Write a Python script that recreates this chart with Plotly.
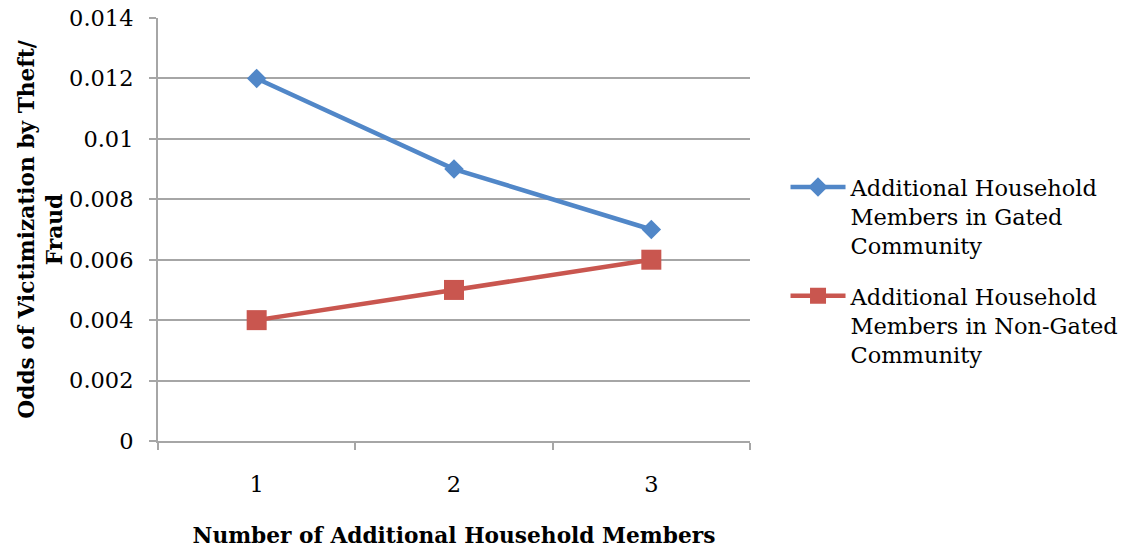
import plotly.graph_objects as go

# Category axis and series values
members = ["1", "2", "3"]
gated_odds = [0.012, 0.009, 0.007]
non_gated_odds = [0.004, 0.005, 0.006]

y_tick_values = [0, 0.002, 0.004, 0.006, 0.008, 0.01, 0.012, 0.014]
y_tick_labels = ["0", "0.002", "0.004", "0.006", "0.008", "0.01", "0.012", "0.014"]

series_names = [
    "Additional Household<br>Members in Gated<br>Community",
    "Additional Household<br>Members in Non-Gated<br>Community",
]

FONT = "DejaVu Serif"
GRID = "#a6a6a6"
BLUE = "#5187c8"
RED = "#c9564f"

fig = go.Figure()
fig.add_trace(go.Scatter(
    x=members, y=gated_odds, name=series_names[0], mode="lines+markers",
    legendgroup="gated",
    line=dict(color=BLUE, width=4.5),
    marker=dict(symbol="diamond", size=15, color=BLUE),
))
fig.add_trace(go.Scatter(
    x=members, y=non_gated_odds, name=series_names[1], mode="lines+markers",
    legendgroup="non_gated",
    line=dict(color=RED, width=4.5),
    marker=dict(symbol="square", size=20, color=RED),
))

fig.update_layout(
    width=1124, height=550,
    margin=dict(l=158, r=374, t=18, b=109, autoexpand=False),
    paper_bgcolor="white", plot_bgcolor="white",
    font=dict(family=FONT, size=22.5, color="#000000"),
    showlegend=True,
    legend=dict(
        x=1.06, y=0.402, xanchor="left", yanchor="middle",
        valign="top", tracegroupgap=18, itemwidth=55,
        font=dict(family=FONT, size=22.5, color="#000000"),
        bgcolor="rgba(0,0,0,0)",
    ),
    xaxis=dict(
        type="category", range=[-0.5, 2.5], tickson="boundaries",
        showgrid=False, showline=True, linecolor=GRID, linewidth=2,
        ticks="outside", ticklen=7, tickcolor=GRID, tickwidth=2,
        ticklabelstandoff=22, automargin=False,
        title=dict(text="<b>Number of Additional Household Members</b>",
                   standoff=32, font=dict(family=FONT, size=21.7)),
    ),
    yaxis=dict(
        range=[0, 0.014], tickvals=y_tick_values, ticktext=y_tick_labels,
        showgrid=True, gridcolor=GRID, gridwidth=2,
        showline=True, linecolor=GRID, linewidth=2,
        ticks="outside", ticklen=7, tickcolor=GRID, tickwidth=2,
        ticklabelstandoff=11, zeroline=False, automargin=False,
        title=dict(text="<b>Odds of Victimization by Theft/<br>Fraud</b>",
                   standoff=0, font=dict(family=FONT, size=21.7)),
    ),
)

fig.write_html("out.html")
